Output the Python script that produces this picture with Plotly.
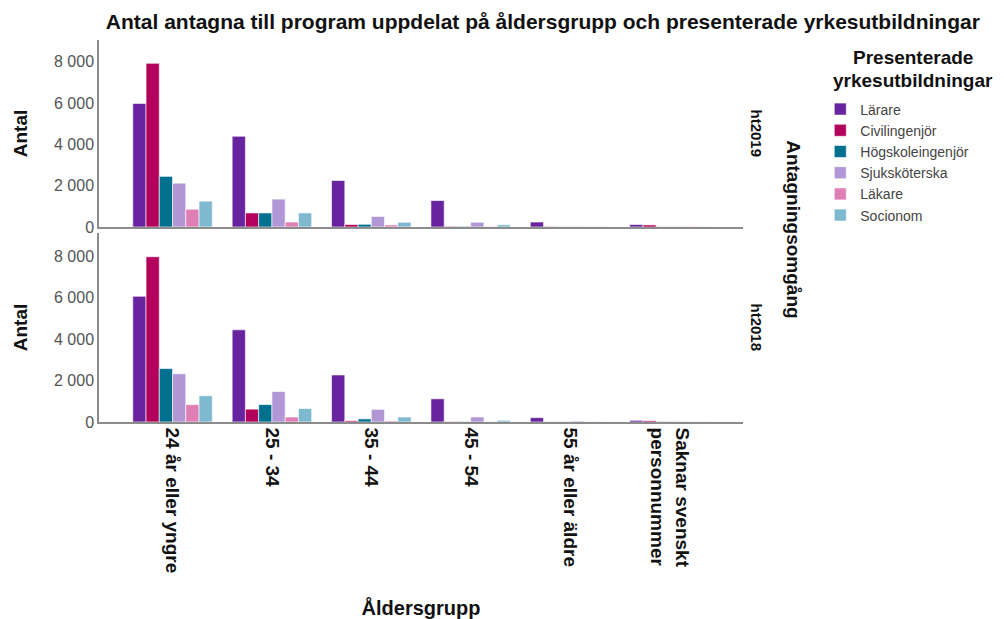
import plotly.graph_objects as go
from plotly.subplots import make_subplots

# age groups on the x axis
age_groups = ["24 år eller yngre", "25 - 34", "35 - 44", "45 - 54",
              "55 år eller äldre", "Saknar svenskt<br>personnummer"]

programs = ["Lärare", "Civilingenjör", "Högskoleingenjör",
            "Sjuksköterska", "Läkare", "Socionom"]
colors = ["#68239E", "#B3005C", "#00708F", "#B197D6", "#E07FB4", "#7EB9D0"]

# ht2019 (upper panel)
ht2019_larare = [5980, 4390, 2250, 1280, 240, 120]
ht2019_civ = [7920, 680, 120, 30, 20, 100]
ht2019_hogsk = [2450, 680, 130, 30, 10, 15]
ht2019_sjuk = [2120, 1350, 510, 230, 30, 30]
ht2019_lakare = [860, 240, 100, 30, 10, 30]
ht2019_socionom = [1250, 680, 230, 110, 20, 15]

# ht2018 (lower panel)
ht2018_larare = [6070, 4450, 2270, 1120, 210, 80]
ht2018_civ = [7980, 620, 60, 20, 10, 60]
ht2018_hogsk = [2580, 840, 150, 20, 10, 20]
ht2018_sjuk = [2330, 1470, 610, 240, 40, 30]
ht2018_lakare = [840, 240, 50, 20, 10, 20]
ht2018_socionom = [1270, 650, 240, 80, 10, 20]

ytick_vals = [0, 2000, 4000, 6000, 8000]
ytick_text = [f"{v:,}".replace(",", " ") for v in ytick_vals]

panels = [
    (1, [ht2019_larare, ht2019_civ, ht2019_hogsk, ht2019_sjuk, ht2019_lakare, ht2019_socionom]),
    (2, [ht2018_larare, ht2018_civ, ht2018_hogsk, ht2018_sjuk, ht2018_lakare, ht2018_socionom]),
]

font = "Liberation Sans, Arial, sans-serif"

fig = make_subplots(rows=2, cols=1, shared_xaxes=True)

for row, series in panels:
    for name, vals, col in zip(programs, series, colors):
        fig.add_trace(go.Bar(x=age_groups, y=vals, name=name,
                             marker=dict(color=col, line=dict(width=0.6, color="white")),
                             showlegend=(row == 1), legendgroup=name),
                      row=row, col=1)

# the page body adds an 8px margin, so the figure is 8px smaller than the window
fig.update_layout(
    width=996, height=611,
    paper_bgcolor="white", plot_bgcolor="white",
    margin=dict(l=91, r=261, t=32, b=197, autoexpand=False),
    barmode="group", bargap=0.2, bargroupgap=0,
    font=dict(family=font, size=15, color="#222"),
    title=dict(text="<b>Antal antagna till program uppdelat på åldersgrupp och presenterade yrkesutbildningar</b>",
               x=0.537, xref="container", xanchor="center",
               y=0.977, yref="container", yanchor="middle",
               font=dict(size=21, color="#111")),
    legend=dict(x=1.12, xanchor="left", y=0.86, yanchor="top",
                font=dict(size=14, color="#444"), traceorder="normal",
                bgcolor="rgba(0,0,0,0)"),
)

axis_common = dict(showgrid=False, zeroline=False, showline=True,
                   linecolor="#8c8c8c", linewidth=1.5, ticks="", automargin=False)

fig.update_xaxes(**axis_common, range=[-0.74, 5.74])
fig.update_xaxes(showticklabels=False, row=1, col=1)
fig.update_xaxes(tickangle=90, tickvals=age_groups,
                 ticktext=[f"<b>{g}</b>" for g in age_groups],
                 tickfont=dict(size=19, color="#111", family=font),
                 title=dict(text="<b>Åldersgrupp</b>", font=dict(size=20, color="#111"), standoff=30),
                 row=2, col=1)

fig.update_yaxes(**axis_common, tickvals=ytick_vals, ticktext=ytick_text,
                 tickfont=dict(size=16, color="#555"),
                 title=dict(text="<b>Antal</b>", font=dict(size=19, color="#111"), standoff=21))
fig.update_yaxes(domain=[0.5105, 1], range=[0, 9050], row=1, col=1)
fig.update_yaxes(domain=[0, 0.4948], range=[0, 9125], row=2, col=1)

# legend title, two centred lines above the legend items
for txt, yc in [("<b>Presenterade</b>", 0.9542), ("<b>yrkesutbildningar</b>", 0.894)]:
    fig.add_annotation(text=txt, x=1.264, y=yc, xref="paper", yref="paper",
                       showarrow=False, xanchor="center", yanchor="middle",
                       font=dict(size=19, color="#111"))

# facet labels on the right
for txt, yc in [("<b>ht2019</b>", (0.5105 + 1) / 2), ("<b>ht2018</b>", 0.4948 / 2)]:
    fig.add_annotation(text=txt, x=1.0217, y=yc, xref="paper", yref="paper",
                       textangle=90, showarrow=False, xanchor="center", yanchor="middle",
                       font=dict(size=15, color="#111"))
fig.add_annotation(text="<b>Antagningsomgång</b>", x=1.079, y=0.505, xref="paper", yref="paper",
                   textangle=90, showarrow=False, xanchor="center", yanchor="middle",
                   font=dict(size=19, color="#111"))

fig.write_html("out.html")
